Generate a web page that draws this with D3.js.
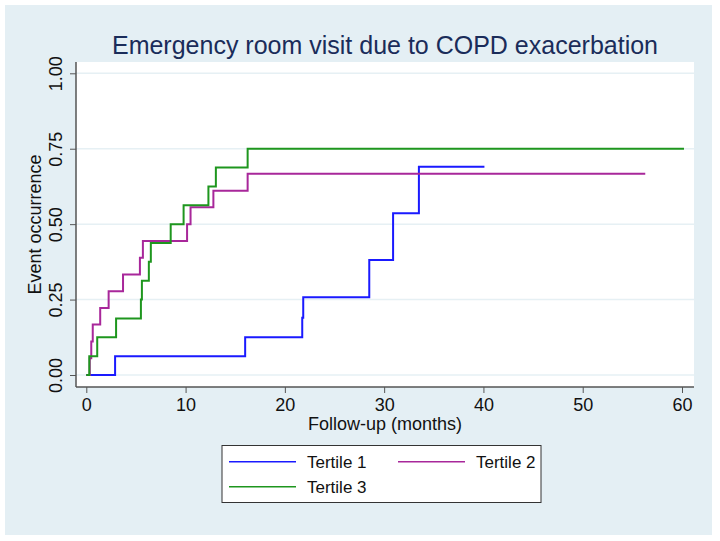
<!DOCTYPE html>
<html>
<head>
<meta charset="utf-8">
<script src="https://cdn.jsdelivr.net/npm/d3@7"></script>
<style>
  body { margin: 0; background: #fff; }
  svg text { font-family: "Liberation Sans", Arial, Helvetica, sans-serif; }
</style>
</head>
<body>
<svg id="chart" width="720" height="541"></svg>
<script>
// Données (Kaplan-Meier, courbes d'échec)
const seriesNames = ["Tertile 1", "Tertile 2", "Tertile 3"];
const seriesColors = ["#1a1aff", "#a8279a", "#1e961e"];

const t1Times  = [0, 2.9, 16.0, 21.75, 21.85, 28.5, 30.9, 33.5, 40.1];
const t1Values = [0, 0.0625, 0.125, 0.19, 0.258, 0.381, 0.536, 0.69, 0.69];

const t2Times  = [0, 0.35, 0.5, 0.65, 1.4, 2.25, 3.7, 5.4, 5.7, 10.15, 10.5, 12.8, 16.25, 56.3];
const t2Values = [0, 0.0556, 0.111, 0.167, 0.222, 0.278, 0.333, 0.389, 0.444, 0.5, 0.556, 0.611, 0.667, 0.667];

const t3Times  = [0, 0.3, 1.1, 3.0, 5.5, 5.6, 6.3, 6.5, 8.5, 9.8, 12.3, 13.05, 16.25, 60.2];
const t3Values = [0, 0.0625, 0.125, 0.1875, 0.25, 0.3125, 0.375, 0.4375, 0.5, 0.5625, 0.625, 0.6875, 0.75, 0.75];

const xTicks = [0, 10, 20, 30, 40, 50, 60];
const yTicks = [0, 0.25, 0.5, 0.75, 1];

const series = [
  t1Times.map((t, i) => [t, t1Values[i]]),
  t2Times.map((t, i) => [t, t2Values[i]]),
  t3Times.map((t, i) => [t, t3Values[i]])
];

const svg = d3.select("#chart");

// Fond du graphique
svg.append("rect").attr("x", 5).attr("y", 5).attr("width", 707).attr("height", 530)
  .attr("fill", "#e4eff4");

// Zone de tracé
const plot = { left: 76, right: 694, top: 62, bottom: 387 };
svg.append("rect")
  .attr("x", plot.left).attr("y", plot.top)
  .attr("width", plot.right - plot.left).attr("height", plot.bottom - plot.top)
  .attr("fill", "#fff");

const x = d3.scaleLinear().domain([0, 60]).range([86.3, 682]);
const y = d3.scaleLinear().domain([0, 1]).range([375, 73.3]);

// Grille
svg.append("g").selectAll("line").data(yTicks).enter().append("line")
  .attr("x1", plot.left).attr("x2", plot.right)
  .attr("y1", d => y(d)).attr("y2", d => y(d))
  .attr("stroke", "#e6f0f4").attr("stroke-width", 1.5);

// Axe X
const xAxis = svg.append("g").attr("transform", `translate(0,${plot.bottom})`)
  .call(d3.axisBottom(x).tickValues(xTicks).tickFormat(d3.format("d")).tickSize(6).tickPadding(5));
xAxis.select(".domain").remove();
xAxis.selectAll("line").attr("stroke", "#555");
xAxis.selectAll("text").attr("font-size", 18).attr("fill", "#111")
  .attr("font-family", "Liberation Sans, Arial, sans-serif");
svg.append("line").attr("x1", plot.left).attr("x2", plot.right)
  .attr("y1", plot.bottom).attr("y2", plot.bottom).attr("stroke", "#555").attr("stroke-width", 1.5);

// Axe Y
const yAxis = svg.append("g").attr("transform", `translate(${plot.left},0)`)
  .call(d3.axisLeft(y).tickValues(yTicks).tickFormat(d3.format(".2f")).tickSize(6).tickPadding(5));
yAxis.select(".domain").remove();
yAxis.selectAll("line").attr("stroke", "#555");
yAxis.selectAll("text")
  .attr("font-size", 18).attr("fill", "#111")
  .attr("font-family", "Liberation Sans, Arial, sans-serif")
  .attr("text-anchor", "middle")
  .attr("x", 0).attr("dy", 0)
  .attr("transform", "translate(-20,0) rotate(-90)")
  .attr("dominant-baseline", "central");
svg.append("line").attr("x1", plot.left).attr("x2", plot.left)
  .attr("y1", plot.top).attr("y2", plot.bottom).attr("stroke", "#555").attr("stroke-width", 1.5);

// Courbes en escalier
const line = d3.line().x(d => x(d[0])).y(d => y(d[1])).curve(d3.curveStepAfter);
svg.append("g").selectAll("path").data(series).enter().append("path")
  .attr("d", line)
  .attr("fill", "none")
  .attr("stroke", (d, i) => seriesColors[i])
  .attr("stroke-width", 2);

// Titres
svg.append("text").attr("x", 385).attr("y", 54).attr("text-anchor", "middle")
  .attr("font-size", 25).attr("fill", "#1a2c5a")
  .text("Emergency room visit due to COPD exacerbation");
svg.append("text").attr("x", 385).attr("y", 430).attr("text-anchor", "middle")
  .attr("font-size", 18).attr("fill", "#111")
  .text("Follow-up (months)");
svg.append("text").attr("transform", "translate(41,224.5) rotate(-90)")
  .attr("text-anchor", "middle").attr("font-size", 18).attr("fill", "#111")
  .text("Event occurrence");

// Légende
svg.append("rect").attr("x", 222).attr("y", 445.5).attr("width", 319).attr("height", 57)
  .attr("fill", "#fff").attr("stroke", "#333").attr("stroke-width", 1);
const legendPos = [[229, 461.7], [398, 461.7], [229, 486.7]];
const legend = svg.append("g").selectAll("g").data(seriesNames).enter().append("g")
  .attr("transform", (d, i) => `translate(${legendPos[i][0]},${legendPos[i][1]})`);
legend.append("line").attr("x1", 0).attr("x2", 67)
  .attr("stroke", (d, i) => seriesColors[i]).attr("stroke-width", 1.5);
legend.append("text").attr("x", 78).attr("dy", "0.35em")
  .attr("font-size", 17).attr("fill", "#111").text(d => d);
</script>
</body>
</html>
